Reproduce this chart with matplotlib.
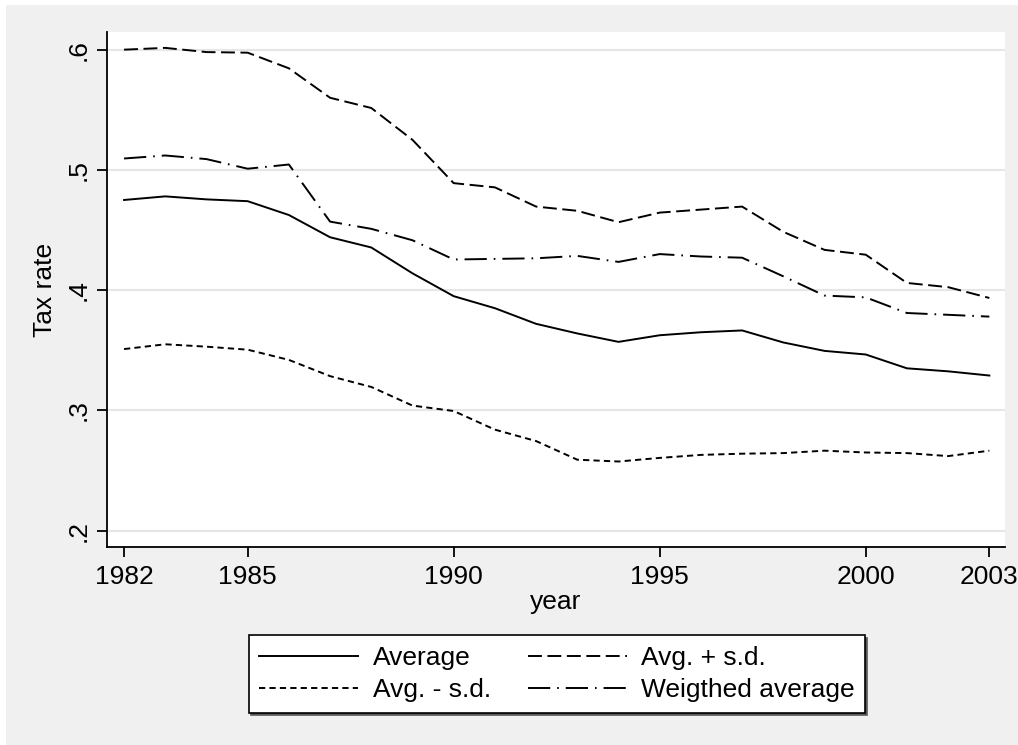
import numpy as np
import matplotlib
matplotlib.use("Agg")
from matplotlib import pyplot as plt
from matplotlib.patches import Rectangle

plt.rcParams['font.family'] = ['Liberation Sans', 'DejaVu Sans']
plt.rcParams['lines.scale_dashes'] = False

years = list(range(1982, 2004))
average = [0.475, 0.478, 0.4755, 0.474, 0.4625, 0.444, 0.4355, 0.414, 0.395, 0.385, 0.372,
           0.364, 0.357, 0.3625, 0.365, 0.3665, 0.3565, 0.3495, 0.3465, 0.335, 0.3325, 0.329]
avg_plus_sd = [0.600, 0.6015, 0.598, 0.5975, 0.5845, 0.560, 0.5515, 0.525, 0.489, 0.4855, 0.4695,
               0.466, 0.4565, 0.4645, 0.467, 0.4695, 0.4485, 0.4335, 0.4295, 0.406, 0.4025, 0.3935]
avg_minus_sd = [0.351, 0.355, 0.353, 0.3505, 0.342, 0.3285, 0.3195, 0.304, 0.2995, 0.284, 0.2745,
                0.259, 0.2575, 0.2605, 0.263, 0.264, 0.2645, 0.2665, 0.265, 0.2645, 0.262, 0.2665]
weighted_avg = [0.5095, 0.512, 0.509, 0.501, 0.5045, 0.457, 0.451, 0.4415, 0.4255, 0.426, 0.4265,
                0.4285, 0.4235, 0.430, 0.428, 0.427, 0.4115, 0.3955, 0.394, 0.381, 0.3795, 0.378]

xticks = [1982, 1985, 1990, 1995, 2000, 2003]
yticks = [0.2, 0.3, 0.4, 0.5, 0.6]
ytick_labels = ['.2', '.3', '.4', '.5', '.6']

W, H = 1018, 745
fig = plt.figure(figsize=(W / 100, H / 100), dpi=100)
fig.patch.set_facecolor('white')
fig.patches.append(Rectangle((6 / W, 0), 1 - 6 / W, 1 - 5 / H, transform=fig.transFigure,
                             facecolor='#f0f0f0', edgecolor='none', zorder=-10))

ax = fig.add_axes([107 / W, 1 - 547 / H, (1005 - 107) / W, (547 - 32) / H])
ax.set_facecolor('white')

lw = 1.4
l_avg, = ax.plot(years, average, color='black', lw=lw, label='Average')
l_plus, = ax.plot(years, avg_plus_sd, color='black', lw=lw, dashes=(10, 4), label='Avg. + s.d.')
l_minus, = ax.plot(years, avg_minus_sd, color='black', lw=lw, dashes=(4.5, 3), label='Avg. - s.d.')
l_w, = ax.plot(years, weighted_avg, color='black', lw=lw, dashes=(16, 5, 1.2, 5), label='Weigthed average')

ax.set_xlim(1981.586, 2003.38)
ax.set_ylim(0.1864, 0.6147)
ax.set_xticks(xticks)
ax.set_yticks(yticks)
ax.set_yticklabels(ytick_labels, rotation=90, va='center')
ax.yaxis.grid(True, color='#e6e6e6', lw=1.5)
ax.set_axisbelow(True)

for s in ['top', 'right']:
    ax.spines[s].set_visible(False)
for s in ['left', 'bottom']:
    ax.spines[s].set_linewidth(1.3)
fs = 19
ax.tick_params(axis='both', length=7, width=1.3, labelsize=fs, colors='black')
ax.tick_params(axis='x', pad=6)
ax.tick_params(axis='y', pad=5)

ax.set_xlabel('year', fontsize=fs, labelpad=1)
ax.set_ylabel('Tax rate', fontsize=fs, labelpad=7)

# column-major fill: order so rows read Average | Avg.+s.d., Avg.-s.d. | Weigthed
handles = [l_avg, l_minus, l_plus, l_w]
leg = ax.legend(handles, [h.get_label() for h in handles], loc='center',
                bbox_to_anchor=(557 / W, 1 - 674 / H), bbox_transform=fig.transFigure,
                ncol=2, fontsize=fs, frameon=True, fancybox=False, edgecolor='black',
                handlelength=3.75, handletextpad=0.55, columnspacing=1.4, labelspacing=0.3,
                borderpad=0.4, shadow={'ox': 1.5, 'oy': -1.5, 'color': '0.35', 'alpha': 1})
leg.get_frame().set_linewidth(1.2)
leg.get_frame().set_facecolor('white')

fig.savefig('out.png', dpi=100, facecolor=fig.get_facecolor())
